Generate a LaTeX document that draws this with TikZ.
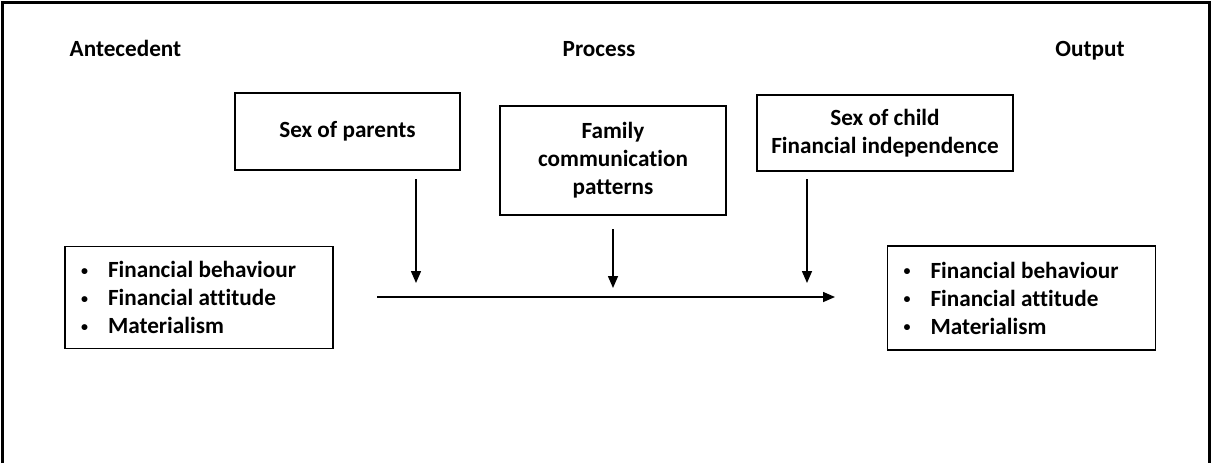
\documentclass[tikz,border=0pt]{standalone}
\usepackage{fontspec}
\setmainfont{Carlito}[Ligatures=NoCommon]
\usetikzlibrary{arrows.meta, positioning}

\begin{document}
\begin{tikzpicture}[
    x=0.5pt, y=-0.5pt,
    every node/.style={font=\bfseries\fontsize{11.6}{14}\selectfont},
    heading/.style={inner sep=0pt, anchor=base},
    factor/.style={rectangle, draw=black, line width=0.8pt,
                   align=center, inner sep=0pt},
    listbox/.style={rectangle, draw=black, line width=0.8pt,
                    align=flush left, inner xsep=7pt, inner ysep=0pt,
                    text width=120pt, minimum height=51pt},
    arrow/.style={-{Triangle[length=6pt, width=5pt]}, line width=0.75pt},
    frame/.style={line width=1.5pt}
]
    \useasboundingbox (0,0) rectangle (1212,463);
    \draw[frame] (2,463) -- (2,2) -- (1209,2) -- (1209,463);

    % column titles
    \node[heading] (antehead) at (125.5,56) {Antecedent};
    \node[heading] (prochead) at (599,56) {Process};
    \node[heading] (outhead) at (1090,56) {Output};

    % moderators
    \node[factor, minimum width=112.5pt, minimum height=38.5pt] (parents) at (347.5,131.5) {Sex of parents};
    \node[factor, minimum width=113pt, minimum height=54.5pt] (family) at (613,160.5) {Family\\communication\\patterns};
    \node[factor, minimum width=128pt, minimum height=38pt] (child) at (885,133) {Sex of child\\Financial independence};

    % antecedent and output
    \newcommand{\itm}{\makebox[14.5pt][l]{\hspace{1pt}\raisebox{1.2pt}{\fontsize{7}{7}\selectfont\textbullet}}}
    \node[listbox] (ante) at (199,297.5) {\itm Financial behaviour\\\itm Financial attitude\\\itm Materialism};
    \node[listbox, minimum height=52pt] (outp) at (1021.5,298) {\itm Financial behaviour\\\itm Financial attitude\\\itm Materialism};

    % arrows
    \coordinate (linestart) at (377,297);
    \coordinate (lineend) at (835,297);
    \coordinate (pa) at (416,179);
    \coordinate (pb) at (416,283);
    \coordinate (fa) at (613,229);
    \coordinate (fb) at (613,288);
    \coordinate (ca) at (807,179);
    \coordinate (cb) at (807,283);

    \draw[arrow] (linestart) -- (lineend);
    \draw[arrow] (pa) -- (pb);
    \draw[arrow] (fa) -- (fb);
    \draw[arrow] (ca) -- (cb);
\end{tikzpicture}
\end{document}
